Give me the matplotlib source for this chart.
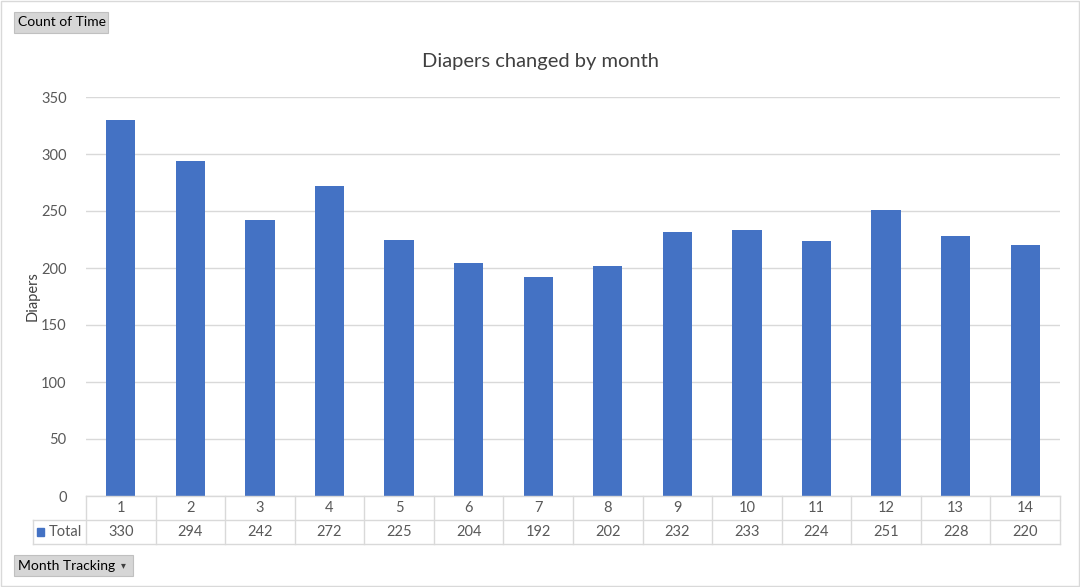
import matplotlib.pyplot as plt
from matplotlib.patches import Rectangle

plt.rcParams['font.family'] = ['Lato', 'DejaVu Sans']

# Data: diapers changed per month (pivot chart)
months = ['1', '2', '3', '4', '5', '6', '7', '8', '9', '10', '11', '12', '13', '14']
totals = [330, 294, 242, 272, 225, 204, 192, 202, 232, 233, 224, 251, 228, 220]

W, H = 1080, 587
fig = plt.figure(figsize=(W / 100, H / 100), dpi=100)

def fx(px):
    return px / W

def fy(py):
    return 1 - py / H

grey_text = '#595959'
grid_col = '#D9D9D9'
bar_col = '#4472C4'

# main plot area
ax = fig.add_axes([fx(86), fy(496), fx(1060) - fx(86), fy(97) - fy(496)])
x = list(range(len(months)))
ax.bar(x, totals, width=0.42, color=bar_col, zorder=3)
ax.set_xlim(-0.5, len(months) - 0.5)
ax.set_ylim(0, 350)
ax.set_yticks(range(0, 351, 50))
ax.yaxis.grid(True, color=grid_col, linewidth=1, zorder=0)
ax.set_xticks([])
for s in ax.spines.values():
    s.set_visible(False)
ax.tick_params(axis='y', length=0, pad=14, labelsize=10.5, labelcolor=grey_text)
ax.set_ylabel('Diapers', fontsize=10.5, color='#404040')
ax.yaxis.set_label_coords((40 - 86) / 974, 0.5)

fig.text(0.5, fy(62), 'Diapers changed by month', ha='center', va='center',
         fontsize=14.5, color='#404040')

# data table below the plot
tab = fig.add_axes([fx(86), fy(544), fx(1060) - fx(86), fy(496) - fy(544)])
tab.set_xlim(-0.5, len(months) - 0.5)
tab.set_ylim(0, 2)
tab.axis('off')
line_kw = dict(color=grid_col, linewidth=1, clip_on=False)
head_left = -0.5 - 53 / 69.57
tab.plot([-0.5, len(months) - 0.5], [2, 2], **line_kw)
tab.plot([head_left, len(months) - 0.5], [1, 1], **line_kw)
tab.plot([head_left, len(months) - 0.5], [0, 0], **line_kw)
tab.plot([head_left, head_left], [0, 1], **line_kw)
for i in range(len(months) + 1):
    tab.plot([i - 0.5, i - 0.5], [0, 2], **line_kw)
for i, (m, t) in enumerate(zip(months, totals)):
    tab.text(i, 1.5, m, ha='center', va='center', fontsize=10.5, color=grey_text)
    tab.text(i, 0.5, str(t), ha='center', va='center', fontsize=10.5, color=grey_text)
tab.add_patch(Rectangle((head_left + 0.06, 0.35), 0.1, 0.3, color=bar_col, clip_on=False))
tab.text(head_left + 0.22, 0.5, 'Total', ha='left', va='center', fontsize=10.5, color=grey_text)

# pivot field buttons
def button(x0, y0, x1, y1, label):
    fig.patches.append(Rectangle((fx(x0), fy(y1)), fx(x1) - fx(x0), fy(y0) - fy(y1),
                                 transform=fig.transFigure, facecolor='#D6D6D6',
                                 edgecolor='#C0C0C0', linewidth=0.8))
    fig.text(fx(x0 + 4), (fy(y0) + fy(y1)) / 2, label, ha='left', va='center',
             fontsize=10, color='black')

button(14, 12, 108, 33, 'Count of Time')
button(14, 555, 133, 576, 'Month Tracking')
fig.text(fx(123), fy(565.5), '\u25BE', ha='center', va='center', fontsize=7, color='#404040')

# chart border
fig.patches.append(Rectangle((0.001, 0.001), 0.998, 0.997, transform=fig.transFigure,
                             fill=False, edgecolor='#D9D9D9', linewidth=1))

fig.savefig('out.png', dpi=100)
